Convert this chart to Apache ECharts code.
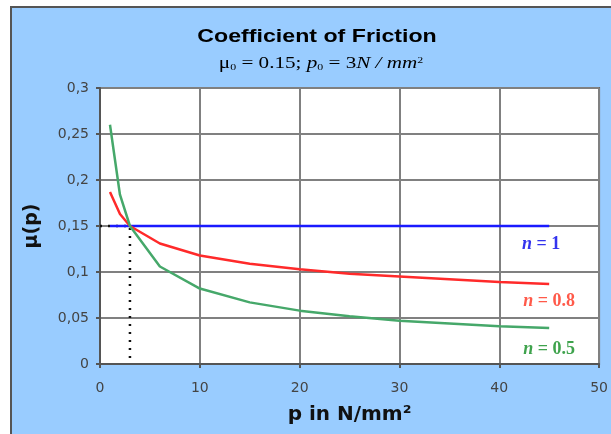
<!DOCTYPE html>
<html><head><meta charset="utf-8">
<script src="https://cdn.jsdelivr.net/npm/echarts@6/dist/echarts.min.js"></script>
<style>html,body{margin:0;padding:0;background:#fff}#c{width:611px;height:434px}</style>
</head><body><div id="c"></div>
<script>
// data
const pressures = [1, 2, 3, 6, 10, 15, 20, 25, 30, 35, 40, 45];
const muN1  = [0.15, 0.15, 0.15, 0.15, 0.15, 0.15, 0.15, 0.15, 0.15, 0.15, 0.15, 0.15];
const muN08 = [0.187, 0.163, 0.15, 0.131, 0.118, 0.109, 0.103, 0.098, 0.095, 0.092, 0.089, 0.087];
const muN05 = [0.260, 0.184, 0.15, 0.106, 0.082, 0.067, 0.058, 0.052, 0.047, 0.044, 0.041, 0.039];
const refX = [0, 3, 3];
const refY = [0.15, 0.15, 0];
const xTicks = [0, 10, 20, 30, 40, 50];
const yTicks = [0, 0.05, 0.1, 0.15, 0.2, 0.25, 0.3];

const zip = (xs, ys) => xs.map((x, i) => [x, ys[i]]);

function withEndLabel(xs, ys, txt, color, offset) {
  const d = zip(xs, ys).map(v => ({ value: v }));
  d[d.length - 1].label = {
    show: true, position: 'bottom', offset: offset,
    formatter: '{i|n}{r| = ' + txt + '}',
    rich: {
      i: { fontFamily: 'Liberation Serif', fontStyle: 'italic', fontWeight: 'bold', fontSize: 18, color: color },
      r: { fontFamily: 'Liberation Serif', fontWeight: 'bold', fontSize: 18, color: color }
    }
  };
  return d;
}

const lineBase = { type: 'line', showSymbol: true, symbol: 'circle', symbolSize: 0.01, z: 3 };

const chart = echarts.init(document.getElementById('c'), null, { renderer: 'canvas' });
chart.setOption({
  backgroundColor: '#fff',
  animation: false,
  graphic: [
    {
      type: 'rect', z: -10, silent: true,
      shape: { x: 11, y: 7, width: 640, height: 460 },
      style: { fill: '#99ccff', stroke: '#555', lineWidth: 2 }
    },
    {
      type: 'text', x: 317, y: 37, scaleX: 1.22, silent: true,
      style: {
        text: 'Coefficient of Friction', fill: '#000',
        font: 'bold 19px "Liberation Sans"', textAlign: 'center', textVerticalAlign: 'middle'
      }
    },
    {
      type: 'text', x: 321, y: 64, scaleX: 1.32, silent: true,
      style: {
        text: '{u|μ}{s|0}{t| = 0.15; }{i|p}{s|0}{t| = 3}{i|N / mm}{p|2}',
        textAlign: 'center', textVerticalAlign: 'middle',
        rich: {
          u: { fontFamily: 'Liberation Serif', fontSize: 16, fill: '#000' },
          t: { fontFamily: 'Liberation Serif', fontSize: 16, fill: '#000' },
          i: { fontFamily: 'Liberation Serif', fontStyle: 'italic', fontSize: 16, fill: '#000' },
          s: { fontFamily: 'Liberation Serif', fontSize: 9, fill: '#000', verticalAlign: 'bottom', padding: [7, 0, 0, 0] },
          p: { fontFamily: 'Liberation Serif', fontSize: 9, fill: '#000', verticalAlign: 'top', padding: [0, 0, 7, 0] }
        }
      }
    }
  ],
  grid: {
    left: 100, right: 8, top: 88, bottom: 70,
    show: true, backgroundColor: '#fff', borderColor: '#666', borderWidth: 2
  },
  xAxis: {
    type: 'value', min: xTicks[0], max: xTicks[xTicks.length - 1], interval: 10,
    name: 'p in N/mm²', nameLocation: 'middle', nameGap: 41,
    nameTextStyle: { fontFamily: 'DejaVu Sans', fontWeight: 'bold', fontSize: 20, color: '#111' },
    axisLine: { show: true, lineStyle: { color: '#555', width: 2 } },
    axisTick: { show: true, length: 4, lineStyle: { color: '#555', width: 2 } },
    axisLabel: { margin: 17, fontFamily: 'DejaVu Sans', fontSize: 14, color: '#444' },
    splitLine: { show: true, lineStyle: { color: '#808080', width: 2 } }
  },
  yAxis: {
    type: 'value', min: yTicks[0], max: yTicks[yTicks.length - 1], interval: 0.05,
    name: 'μ(p)', nameLocation: 'middle', nameGap: 58, nameRotate: 90,
    nameTextStyle: { fontFamily: 'DejaVu Sans', fontWeight: 'bold', fontSize: 19, color: '#111' },
    axisLine: { show: true, lineStyle: { color: '#555', width: 2 } },
    axisTick: { show: true, length: 4, lineStyle: { color: '#555', width: 2 } },
    axisLabel: {
      margin: 11, fontFamily: 'DejaVu Sans', fontSize: 14, color: '#444',
      formatter: v => String(+v.toFixed(2)).replace('.', ',')
    },
    splitLine: { show: true, lineStyle: { color: '#808080', width: 2 } }
  },
  series: [
    {
      name: 'ref', type: 'line', showSymbol: false, data: zip(refX, refY),
      lineStyle: { color: '#111', width: 2.5, type: [2, 6] }, z: 2
    },
    Object.assign({}, lineBase, {
      name: 'n=1', itemStyle: { color: '#1a1aff' },
      data: withEndLabel(pressures, muN1, '1', '#3333ee', [-8, 4]),
      lineStyle: { color: '#1a1aff', width: 2.5 }
    }),
    Object.assign({}, lineBase, {
      name: 'n=0.8', itemStyle: { color: '#ff2a2a' },
      data: withEndLabel(pressures, muN08, '0.8', '#ff5a4a', [0, 3]),
      lineStyle: { color: '#ff2a2a', width: 2.5 }
    }),
    Object.assign({}, lineBase, {
      name: 'n=0.5', itemStyle: { color: '#46a86a' },
      data: withEndLabel(pressures, muN05, '0.5', '#3fa34d', [0, 7]),
      lineStyle: { color: '#46a86a', width: 2.5 }
    })
  ]
});
</script></body></html>
